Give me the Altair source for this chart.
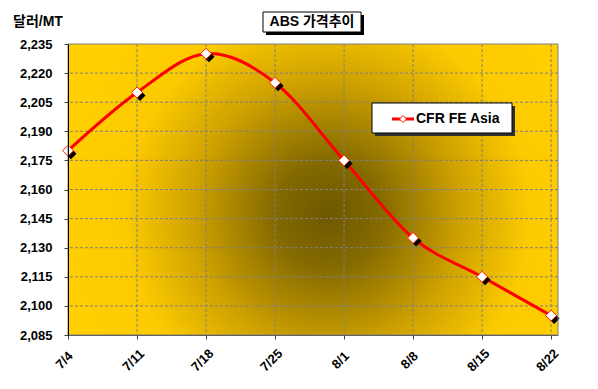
import json
import altair as alt
import pandas as pd

# ---- data ----
dates = ["7/4", "7/11", "7/18", "7/25", "8/1", "8/8", "8/15", "8/22"]
prices = [2180, 2210, 2230, 2215, 2175, 2135, 2115, 2095]
y_ticks = [2085, 2100, 2115, 2130, 2145, 2160, 2175, 2190, 2205, 2220, 2235]
series_name = "CFR FE Asia"
chart_title = "ABS 가격추이"
y_title = "달러/MT"

W, H = 490, 291
FONT = "Liberation Sans"
KFONT = '"Liberation Sans", "Noto Sans CJK KR"'

df = pd.DataFrame({"idx": list(range(len(dates))), "date": dates, "price": prices})

xs = alt.Scale(domain=[0, 7.1], nice=False, zero=False)
ys = alt.Scale(domain=[y_ticks[0], y_ticks[-1]], nice=False, zero=False)

label_expr = json.dumps(dates) + "[datum.value]"

x_axis = alt.Axis(
    values=list(range(len(dates))), labelExpr=label_expr, title=None, grid=False,
    labelAngle=-45, labelAlign="center", labelBaseline="middle",
    labelFont=FONT, labelFontWeight="bold", labelFontSize=13, labelColor="black",
    labelPadding=21, labelOffset=-4, tickSize=4, tickColor="#404040", domainColor="#606060",
    zindex=1,
)
y_axis = alt.Axis(
    values=y_ticks, format=",d", title=None, grid=False,
    labelFont=FONT, labelFontWeight="bold", labelFontSize=13, labelColor="black",
    labelPadding=12, tickSize=4, tickColor="#404040", domainColor="black",
    zindex=1,
)

one = alt.Data(values=[{"k": 0}])

bg = alt.Chart(one).mark_rect(
    color={
        "gradient": "radial",
        "x1": 0.53, "y1": 0.55, "r1": 0,
        "x2": 0.53, "y2": 0.55, "r2": 0.55,
        "stops": [
            {"offset": 0.0, "color": "#6e5700"},
            {"offset": 0.2, "color": "#846a00"},
            {"offset": 0.5, "color": "#cfa200"},
            {"offset": 0.75, "color": "#fcca00"},
            {"offset": 1.0, "color": "#ffcf00"},
        ],
    }
).encode(x=alt.value(0), x2=alt.value(W), y=alt.value(0), y2=alt.value(H))

ygrid = alt.Chart(pd.DataFrame({"price": y_ticks[1:-1]})).mark_rule(
    color="#808080", strokeDash=[3, 2], strokeWidth=1
).encode(y=alt.Y("price:Q", scale=ys, axis=y_axis))

xgrid = alt.Chart(pd.DataFrame({"idx": list(range(1, len(dates)))})).mark_rule(
    color="#808080", strokeDash=[3, 2], strokeWidth=1
).encode(x=alt.X("idx:Q", scale=xs, axis=x_axis))

line = alt.Chart(df).mark_line(
    color="#ff0000", strokeWidth=3, interpolate="cardinal"
).encode(
    x=alt.X("idx:Q", scale=xs, axis=x_axis),
    y=alt.Y("price:Q", scale=ys, axis=y_axis),
)

shadow = alt.Chart(df).mark_point(
    shape="diamond", filled=True, color="black", size=121, opacity=1, xOffset=3, yOffset=3
).encode(x=alt.X("idx:Q", scale=xs, axis=x_axis), y=alt.Y("price:Q", scale=ys, axis=y_axis))

pts = alt.Chart(df).mark_point(
    shape="diamond", filled=True, fill="white", stroke="#ff2000", strokeWidth=1,
    size=121, opacity=1
).encode(x=alt.X("idx:Q", scale=xs, axis=x_axis), y=alt.Y("price:Q", scale=ys, axis=y_axis))

border = alt.Chart(one).mark_rect(
    fillOpacity=0, stroke="#808080", strokeWidth=1
).encode(x=alt.value(0), x2=alt.value(W), y=alt.value(0), y2=alt.value(H))

# title box
t_shadow = alt.Chart(one).mark_rect(color="black").encode(
    x=alt.value(198), x2=alt.value(296), y=alt.value(-29), y2=alt.value(-9))
t_box = alt.Chart(one).mark_rect(fill="white", stroke="black", strokeWidth=1).encode(
    x=alt.value(195), x2=alt.value(293), y=alt.value(-32), y2=alt.value(-12))
t_text = alt.Chart(one).mark_text(
    text=chart_title, font=KFONT, fontWeight="bold", fontSize=14, color="black",
    align="center", baseline="middle"
).encode(x=alt.value(244), y=alt.value(-22))

# y title
yt = alt.Chart(one).mark_text(
    text=y_title, font=KFONT, fontWeight="bold", fontSize=14, color="black",
    align="left", baseline="middle"
).encode(x=alt.value(-55), y=alt.value(-22))

# legend
l_shadow = alt.Chart(one).mark_rect(color="#303030").encode(
    x=alt.value(307), x2=alt.value(447), y=alt.value(62), y2=alt.value(92))
l_box = alt.Chart(one).mark_rect(fill="white", stroke="black", strokeWidth=1).encode(
    x=alt.value(304), x2=alt.value(444), y=alt.value(59), y2=alt.value(89))
l_line = alt.Chart(one).mark_rule(color="#ff0000", strokeWidth=3).encode(
    x=alt.value(324), x2=alt.value(346), y=alt.value(75))
l_pt = alt.Chart(one).mark_point(
    shape="diamond", filled=True, fill="white", stroke="#ff2000", strokeWidth=1,
    size=49, opacity=1
).encode(x=alt.value(335), y=alt.value(75))
l_text = alt.Chart(one).mark_text(
    text=series_name, font=FONT, fontWeight="bold", fontSize=14, color="black",
    align="left", baseline="middle"
).encode(x=alt.value(348), y=alt.value(75))

chart = alt.layer(
    bg, ygrid, xgrid, line, shadow, pts, border,
    t_shadow, t_box, t_text, yt,
    l_shadow, l_box, l_line, l_pt, l_text,
).properties(
    width=W, height=H,
    autosize=alt.AutoSizeParams(type="none"),
    padding={"left": 60, "top": 36, "right": 32, "bottom": 46},
    background="white",
).configure_view(stroke=None)

chart.save("out.html", embed_options={"renderer": "svg", "actions": False})
